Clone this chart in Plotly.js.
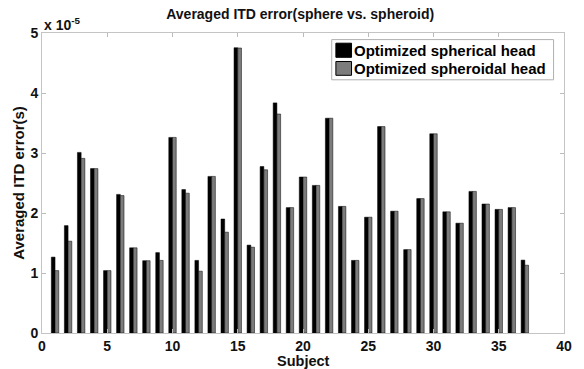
<!DOCTYPE html>
<html><head><meta charset="utf-8">
<script src="https://cdn.plot.ly/plotly-3.0.1.min.js"></script>
<style>html,body{margin:0;padding:0;background:#fff}#c{width:584px;height:369px}</style>
</head><body><div id="c"></div>
<script>
// values in units of 1e-5 s
const subjects = [1,2,3,4,5,6,7,8,9,10,11,12,13,14,15,16,17,18,19,20,21,22,23,24,25,26,27,28,29,30,31,32,33,34,35,36,37];
const spherical = [1.265,1.79,3.01,2.74,1.04,2.31,1.42,1.205,1.34,3.26,2.39,1.21,2.61,1.90,4.755,1.465,2.775,3.835,2.09,2.60,2.46,3.58,2.11,1.21,1.93,3.44,2.03,1.39,2.24,3.32,2.02,1.83,2.36,2.15,2.06,2.09,1.215];
const spheroidal = [1.04,1.53,2.91,2.74,1.04,2.29,1.42,1.205,1.21,3.26,2.33,1.03,2.61,1.68,4.75,1.43,2.72,3.65,2.09,2.60,2.46,3.58,2.11,1.21,1.93,3.44,2.03,1.39,2.24,3.32,2.02,1.83,2.36,2.15,2.06,2.09,1.13];
const xTicks = [0,5,10,15,20,25,30,35,40];
const yTicks = [0,1,2,3,4,5];
const seriesNames = ['Optimized spherical head','Optimized spheroidal head'];
const seriesColors = ['#000000','#7c7c7c'];

const F = 'Liberation Sans, Arial, Helvetica, sans-serif';
const traces = [0,1].map(i => ({type:'bar', x:subjects, y:[spherical,spheroidal][i], name:seriesNames[i],
   showlegend:false, marker:{color:seriesColors[i], line:{color:'#000', width:0.5}}}));

const axisCommon = {showgrid:false, zeroline:false, ticks:'inside', ticklen:4,
  tickcolor:'#bbb', linecolor:'#c4c4c4', linewidth:1, mirror:'ticks', showline:true,
  tickfont:{family:F, size:14, color:'#111', weight:'bold'}};

// custom MATLAB-style legend (paper coordinates)
const legendBox = {x0:0.555, x1:0.980, y0:0.844, y1:0.978};
const rows = [{y0:0.919, y1:0.966, yc:0.943},{y0:0.859, y1:0.905, yc:0.882}];
const shapes = [{type:'rect', xref:'paper', yref:'paper', x0:legendBox.x0, x1:legendBox.x1, y0:legendBox.y0, y1:legendBox.y1,
  line:{color:'#b0b0b0', width:1}, fillcolor:'#fff', layer:'above'}];
const annotations = [
  {xref:'paper', yref:'paper', x:0, y:1, xanchor:'left', yanchor:'bottom', showarrow:false,
    text:'x 10<sup>-5</sup>', font:{family:F, size:14, color:'#111', weight:'bold'}, yshift:-2},
  {xref:'paper', yref:'paper', x:0.5, y:-0.092, xanchor:'center', yanchor:'middle', showarrow:false,
    text:'Subject', borderpad:0, font:{family:F, size:14.5, color:'#111', weight:'bold'}}
];
rows.forEach((r,i) => {
  shapes.push({type:'rect', xref:'paper', yref:'paper', x0:0.563, x1:0.593, y0:r.y0, y1:r.y1,
    line:{color:'#000', width:1}, fillcolor:seriesColors[i], layer:'above'});
  annotations.push({xref:'paper', yref:'paper', x:0.598, y:r.yc, xanchor:'left', yanchor:'middle', showarrow:false,
    text:seriesNames[i], xshift:-2, font:{family:F, size:15, color:'#000', weight:'bold'}});
});

const layout = {
  width:584, height:369,
  margin:{l:42, r:20, t:32.5, b:36},
  paper_bgcolor:'#fff', plot_bgcolor:'#fff',
  barmode:'group', bargap:0.43, bargroupgap:0,
  showlegend:false,
  title:{text:'Averaged ITD error(sphere vs. spheroid)', x:0.514, xanchor:'center', y:0.962, yanchor:'middle',
    font:{family:F, size:14, color:'#111', weight:'bold'}},
  xaxis:Object.assign({}, axisCommon, {range:[0,40], tickvals:xTicks, ticktext:xTicks.map(String)}),
  yaxis:Object.assign({}, axisCommon, {range:[0,5], tickvals:yTicks, ticktext:yTicks.map(String),
    title:{text:'Averaged ITD error(s)', font:{family:F, size:15, color:'#111', weight:'bold'}, standoff:2}}),
  shapes:shapes,
  annotations:annotations
};
Plotly.newPlot('c', traces, layout, {displayModeBar:false, staticPlot:true});
</script></body></html>
